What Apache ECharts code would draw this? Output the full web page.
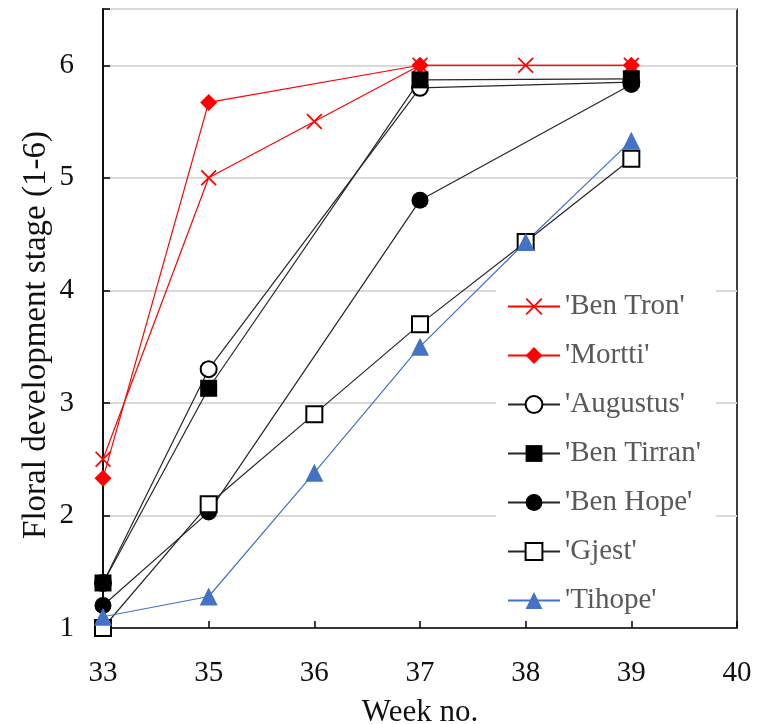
<!DOCTYPE html>
<html>
<head>
<meta charset="utf-8">
<script src="https://cdn.jsdelivr.net/npm/echarts@6/dist/echarts.min.js"></script>
<style>
html,body{margin:0;padding:0;background:#fff;}
#chart{width:771px;height:724px;}
</style>
</head>
<body>
<div id="chart"></div>
<script>
var weeks = ['33', '35', '36', '37', '38', '39', '40'];
var benTron   = [2.5, 5.0, 5.5, 6.0, 6.0, 6.0, null];
var mortti    = [2.33, 5.67, null, 6.0, null, 6.0, null];
var augustus  = [1.4, 3.3, null, 5.8, null, 5.85, null];
var benTirran = [1.4, 3.13, null, 5.87, null, 5.88, null];
var benHope   = [1.2, 2.03, null, 4.8, null, 5.83, null];
var gjest     = [1.0, 2.1, 2.9, 3.7, 4.43, 5.17, null];
var tihope    = [1.1, 1.28, 2.38, 3.5, 4.43, 5.33, null];
var seriesNames = ["'Ben Tron'", "'Mortti'", "'Augustus'", "'Ben Tirran'", "'Ben Hope'", "'Gjest'", "'Tihope'"];

var FONT = 'Liberation Serif';
var xPath = 'path://M0,1.5 L1.5,0 L10,8.5 L18.5,0 L20,1.5 L11.5,10 L20,18.5 L18.5,20 L10,11.5 L1.5,20 L0,18.5 L8.5,10 Z';

function mk(name, data, color, lineColor, symbol, size, extra) {
  var s = {
    name: name, type: 'line', data: data, connectNulls: true, clip: false,
    symbol: symbol, symbolSize: size, showAllSymbol: true,
    lineStyle: { color: lineColor, width: 1.2 },
    itemStyle: { color: color },
    emphasis: { disabled: true }
  };
  if (extra) { for (var k in extra) s[k] = extra[k]; }
  return s;
}

var chart = echarts.init(document.getElementById('chart'), null, { renderer: 'canvas' });
chart.setOption({
  animation: false,
  backgroundColor: '#fff',
  grid: { left: 103, right: 34, top: 9, bottom: 96, show: true, borderColor: '#000', borderWidth: 1.5, containLabel: false, outerBoundsMode: 'none' },
  legend: {
    orient: 'vertical', left: 496, top: 286,
    backgroundColor: '#fff', padding: [6, 15, 6, 11],
    itemWidth: 52, itemHeight: 21, itemGap: 20,
    textStyle: { fontFamily: FONT, fontSize: 29, color: '#595959' },
    data: seriesNames
  },
  xAxis: {
    type: 'category', data: weeks, boundaryGap: false,
    axisLine: { lineStyle: { color: '#000', width: 1.5 } },
    axisTick: { inside: true, length: 7, lineStyle: { color: '#000', width: 1.5 } },
    axisLabel: { fontFamily: FONT, fontSize: 29, color: '#111', margin: 31 },
    splitLine: { show: false },
    name: 'Week no.', nameLocation: 'middle', nameGap: 69, nameMoveOverlap: false,
    nameTextStyle: { fontFamily: FONT, fontSize: 31, color: '#111' }
  },
  yAxis: {
    type: 'value', min: 1, max: 6.5, interval: 1,
    axisLine: { show: true, lineStyle: { color: '#000', width: 1.5 } },
    axisTick: { show: true, inside: true, length: 7, lineStyle: { color: '#000', width: 1.5 } },
    axisLabel: {
      fontFamily: FONT, fontSize: 29, color: '#111', margin: 29,
      formatter: function (v) { return Math.abs(v - Math.round(v)) < 1e-6 ? String(Math.round(v)) : ''; }
    },
    splitLine: { show: true, lineStyle: { color: '#d9d9d9', width: 2 } },
    name: 'Floral development stage (1-6)', nameLocation: 'middle', nameGap: 50, nameMoveOverlap: false,
    nameTextStyle: { fontFamily: FONT, fontSize: 33, color: '#111', padding: [0, 33, 0, 0] }
  },
  series: [
    mk(seriesNames[0], benTron, '#ff0000', '#ff0000', xPath, 16),
    mk(seriesNames[1], mortti, '#ff0000', '#ff0000', 'diamond', 17),
    mk(seriesNames[2], augustus, '#fff', '#262626', 'circle', 16, { itemStyle: { color: '#fff', borderColor: '#000', borderWidth: 2 } }),
    mk(seriesNames[3], benTirran, '#000', '#262626', 'rect', 17),
    mk(seriesNames[4], benHope, '#000', '#262626', 'circle', 17),
    mk(seriesNames[5], gjest, '#fff', '#262626', 'rect', 16, { itemStyle: { color: '#fff', borderColor: '#000', borderWidth: 2 } }),
    mk(seriesNames[6], tihope, '#4472c4', '#4472c4', 'triangle', 18)
  ]
});
</script>
</body>
</html>
